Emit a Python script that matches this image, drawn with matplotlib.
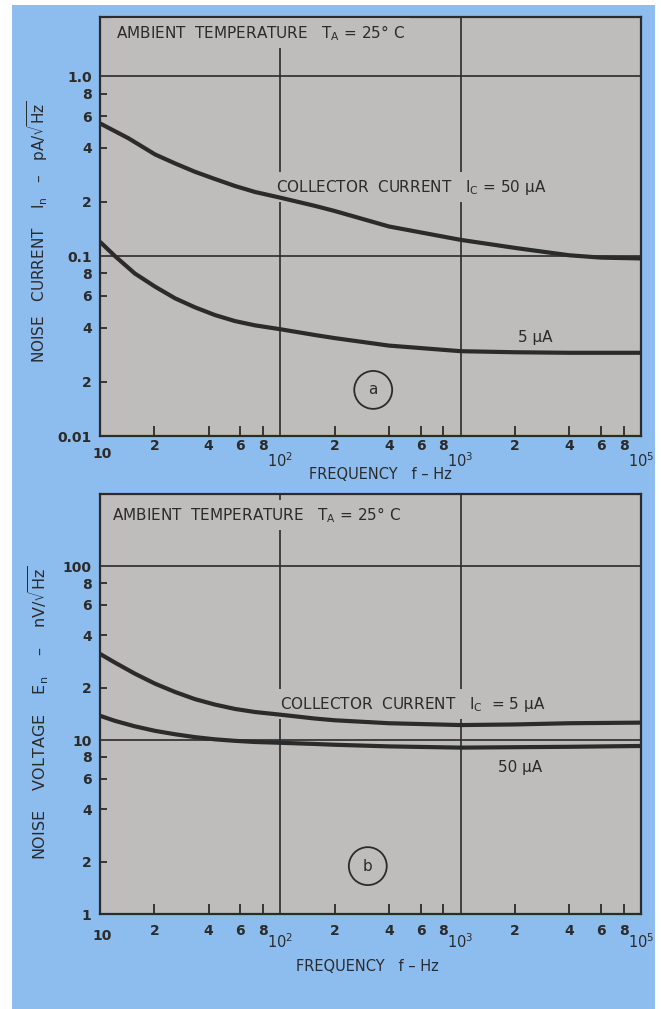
import matplotlib
matplotlib.use("Agg")
import matplotlib.pyplot as plt
from matplotlib.patches import Rectangle

BLUE = "#8dbdef"
GRAY = "#bebdbb"
INK = "#2b2b2b"

# ---------------- data ----------------
# Panel (a): noise current, pA/sqrt(Hz)
freq_a_50uA = [10, 14.4, 20.2, 26.1, 33.6, 43.4, 56.1, 72.4, 100, 155.6, 200, 400, 1000,
               2000, 3000, 4000, 6000, 10000]
noise_current_50uA = [0.546, 0.451, 0.367, 0.327, 0.294, 0.268, 0.245, 0.227, 0.211, 0.190,
                      0.178, 0.146, 0.123, 0.111, 0.105, 0.101, 0.098, 0.097]
freq_a_5uA = [10, 12.1, 15.6, 20.2, 26.1, 33.6, 43.4, 56.1, 72.4, 100, 155.6, 200, 400,
              1000, 2000, 4000, 10000]
noise_current_5uA = [0.120, 0.100, 0.080, 0.0676, 0.0582, 0.0519, 0.0470, 0.0435, 0.0412,
                     0.0392, 0.0364, 0.0350, 0.0318, 0.0296, 0.0292, 0.0290, 0.0290]

# Panel (b): noise voltage, nV/sqrt(Hz)
freq_b_5uA = [10, 12.1, 15.6, 20.2, 26.1, 33.6, 43.4, 56.1, 72.4, 100, 155.6, 200, 400,
              1000, 2000, 4000, 10000]
noise_voltage_5uA = [31.3, 27.9, 24.1, 21.1, 18.9, 17.2, 16.0, 15.1, 14.5, 14.0, 13.3, 13.0,
                     12.5, 12.2, 12.3, 12.5, 12.6]
freq_b_50uA = [10, 12.1, 15.6, 20.2, 26.1, 33.6, 43.4, 56.1, 72.4, 100, 155.6, 200, 400,
               1000, 2000, 4000, 10000]
noise_voltage_50uA = [13.8, 12.9, 12.0, 11.3, 10.8, 10.4, 10.1, 9.9, 9.75, 9.65, 9.5, 9.4,
                      9.2, 9.05, 9.1, 9.15, 9.25]

# ticks / labels
x_minor_ticks = [20, 40, 60, 80, 200, 400, 600, 800, 2000, 4000, 6000, 8000]
x_minor_labels = ["2", "4", "6", "8"] * 3
x_decade_ticks = [100, 1000, 10000]
x_decade_labels = [r"$\mathregular{10^2}$", r"$\mathregular{10^3}$", r"$\mathregular{10^5}$"]
x_first_tick = 10
x_first_label = "10"

ya_major = [0.01, 0.1, 1.0]
ya_major_labels = ["0.01", "0.1", "1.0"]
ya_minor = [0.02, 0.04, 0.06, 0.08, 0.2, 0.4, 0.6, 0.8]
ya_minor_labels = ["2", "4", "6", "8"] * 2

yb_major = [1, 10, 100]
yb_major_labels = ["1", "10", "100"]
yb_minor = [2, 4, 6, 8, 20, 40, 60, 80]
yb_minor_labels = ["2", "4", "6", "8"] * 2

W, H = 661, 1009
fig = plt.figure(figsize=(W / 100, H / 100), dpi=100)
fig.patch.set_facecolor("white")
fig.add_artist(Rectangle((12 / W, 0), (655 - 12) / W, 1 - 5 / H,
                         transform=fig.transFigure, facecolor=BLUE, edgecolor="none", zorder=0))


def px_axes(left, top, right, bottom):
    return fig.add_axes([left / W, 1 - bottom / H, (right - left) / W, (bottom - top) / H])


def style_axes(ax, ylim, ymaj, ymaj_lab, ymin, ymin_lab, offs, xlabel_x, xlabel_off):
    ax.set_facecolor(GRAY)
    ax.set_xscale("log")
    ax.set_yscale("log")
    ax.set_xlim(10, 10000)
    ax.set_ylim(*ylim)
    for sp in ax.spines.values():
        sp.set_color(INK)
        sp.set_linewidth(1.6)
    # y ticks
    ax.set_yticks(ymaj, labels=ymaj_lab)
    ax.set_yticks(ymin, labels=ymin_lab, minor=True)
    ax.tick_params(axis="y", which="major", length=0, pad=6, labelsize=10, labelcolor=INK)
    ax.tick_params(axis="y", which="minor", direction="in", length=5, width=1.3, color=INK,
                   pad=6, labelsize=10, labelcolor=INK)
    # x ticks
    ax.set_xticks(x_decade_ticks, labels=[])
    ax.set_xticks(x_minor_ticks, labels=[], minor=True)
    ax.tick_params(axis="x", which="major", length=0)
    ax.tick_params(axis="x", which="minor", direction="in", length=7, width=1.3, color=INK)
    for lab in ax.get_yticklabels() + ax.get_yticklabels(minor=True):
        lab.set_fontweight("bold")
    # grid on decades
    ax.grid(True, which="major", color=INK, linewidth=1.2)
    ax.grid(False, which="minor")
    # x tick labels via annotate (data x, axes y)
    o_minor, o_first, o_dec = offs
    for t, s in zip(x_minor_ticks, x_minor_labels):
        ax.annotate(s, xy=(t, 0), xycoords=("data", "axes fraction"), xytext=(0, o_minor),
                    textcoords="offset points", ha="center", va="baseline",
                    fontsize=10, color=INK, fontweight="bold", annotation_clip=False)
    ax.annotate(x_first_label, xy=(x_first_tick, 0), xycoords=("data", "axes fraction"),
                xytext=(1.5, o_first), textcoords="offset points", ha="center", va="baseline",
                fontsize=10, color=INK, fontweight="bold", annotation_clip=False)
    for t, s in zip(x_decade_ticks, x_decade_labels):
        ax.annotate(s, xy=(t, 0), xycoords=("data", "axes fraction"), xytext=(0, o_dec),
                    textcoords="offset points", ha="center", va="baseline",
                    fontsize=10.5, color=INK, annotation_clip=False)
    ax.annotate("FREQUENCY   f – Hz", xy=(xlabel_x, 0), xycoords="axes fraction",
                xytext=(0, xlabel_off), textcoords="offset points", ha="center", va="center",
                fontsize=10.5, color=INK, annotation_clip=False)


label_box = dict(boxstyle="square,pad=0.35", facecolor=GRAY, edgecolor="none")
circle_box = dict(boxstyle="circle,pad=0.75", facecolor="none", edgecolor=INK, lw=1.3)

# ---------- panel (a) ----------
axa = px_axes(100, 17, 641, 436)
style_axes(axa, (0.01, 2.13), ya_major, ya_major_labels, ya_minor, ya_minor_labels,
           offs=(-10, -15.8, -22.3), xlabel_x=0.518, xlabel_off=-28)
axa.plot(freq_a_50uA, noise_current_50uA, color=INK, lw=3.0, zorder=4, solid_capstyle="butt")
axa.plot(freq_a_5uA, noise_current_5uA, color=INK, lw=3.0, zorder=4, solid_capstyle="butt")
axa.text(0.03, 0.962, r"AMBIENT  TEMPERATURE   $\mathregular{T_A}$ = 25° C", transform=axa.transAxes,
         ha="left", va="center", fontsize=11, color=INK, bbox=label_box, zorder=3)
axa.text(0.325, 0.594, r"COLLECTOR  CURRENT   $\mathregular{I_C}$ = 50 µA", transform=axa.transAxes,
         ha="left", va="center", fontsize=11, color=INK, bbox=label_box, zorder=3)
axa.text(0.773, 0.236, "5 µA", transform=axa.transAxes, ha="left", va="center",
         fontsize=11, color=INK, zorder=3)
axa.text(0.505, 0.110, "a", transform=axa.transAxes, ha="center", va="center", fontsize=11,
         color=INK, bbox=circle_box)
axa.text(-0.115, 0.487, r"NOISE   CURRENT    $\mathregular{I_n}$   –   pA/$\sqrt{\mathregular{Hz}}$",
         transform=axa.transAxes, rotation=90, ha="center", va="center", fontsize=11, color=INK)

# ---------- panel (b) ----------
axb = px_axes(100, 494, 641, 914)
style_axes(axb, (1, 260), yb_major, yb_major_labels, yb_minor, yb_minor_labels,
           offs=(-15, -18.7, -24.5), xlabel_x=0.494, xlabel_off=-37.5)
axb.plot(freq_b_5uA, noise_voltage_5uA, color=INK, lw=3.0, zorder=4, solid_capstyle="butt")
axb.plot(freq_b_50uA, noise_voltage_50uA, color=INK, lw=3.0, zorder=4, solid_capstyle="butt")
axb.text(0.022, 0.95, r"AMBIENT  TEMPERATURE   $\mathregular{T_A}$ = 25° C", transform=axb.transAxes,
         ha="left", va="center", fontsize=11, color=INK, bbox=label_box, zorder=3)
axb.text(0.333, 0.50, r"COLLECTOR  CURRENT   $\mathregular{I_C}$  = 5 µA", transform=axb.transAxes,
         ha="left", va="center", fontsize=11, color=INK, bbox=label_box, zorder=3)
axb.text(0.736, 0.35, "50 µA", transform=axb.transAxes, ha="left", va="center",
         fontsize=11, color=INK, zorder=3)
axb.text(0.495, 0.114, "b", transform=axb.transAxes, ha="center", va="center", fontsize=11,
         color=INK, bbox=circle_box)
axb.text(-0.113, 0.479, r"NOISE    VOLTAGE    $\mathregular{E_n}$    –    nV/$\sqrt{\mathregular{Hz}}$",
         transform=axb.transAxes, rotation=90, ha="center", va="center", fontsize=11.5, color=INK)

fig.savefig("out.png", dpi=100, facecolor=fig.get_facecolor())
